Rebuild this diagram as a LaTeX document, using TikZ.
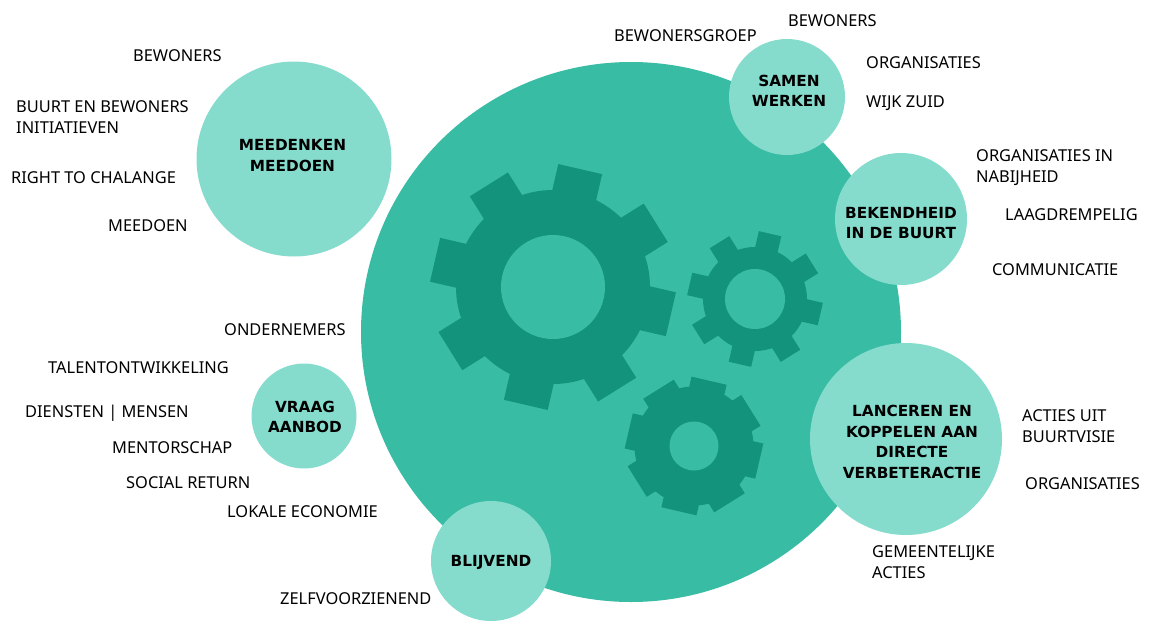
\documentclass[tikz,border=0pt]{standalone}
\usepackage{xcolor}
\usepackage{fontspec}
\setmainfont{Noto Sans}
\newfontfamily\boldfont{DejaVu Sans Bold}
\definecolor{mainteal}{HTML}{38BCA4}
\definecolor{lightteal}{HTML}{85DCCD}
\definecolor{darkteal}{HTML}{13937B}
\tikzset{
  bubble/.style={circle, fill=lightteal, inner sep=0pt},
  bubbletext/.style={align=center, inner sep=0pt, font=\fontsize{15.3}{20.5}\selectfont\boldfont},
  wheel/.style={circle, fill=darkteal, inner sep=0pt},
  hole/.style={circle, fill=mainteal, inner sep=0pt},
  tooth/.style={rectangle, fill=darkteal, inner sep=0pt},
  lbl/.style={anchor=west, align=left, inner sep=0pt, font=\fontsize{16.4}{21}\selectfont}
}
\begin{document}
\begin{tikzpicture}[x=1pt, y=-1pt]
\useasboundingbox (0,0) rectangle (1151,624);
\node[circle, fill=mainteal, inner sep=0pt, minimum size=540pt] (main) at (631,332) {};

% big gear
\node[wheel, minimum size=194pt] (gearA) at (553,287) {};
\foreach \a in {32,77,...,392}
  \node[tooth, minimum width=45pt, minimum height=50pt, rotate=\a-90] (toothA\a) at ([shift={(\a:96pt)}]gearA.center) {};
\node[hole, minimum size=104pt] (holeA) at (gearA.center) {};

% small gear
\node[wheel, minimum size=104pt] (gearB) at (755,299) {};
\foreach \a in {32,77,...,392}
  \node[tooth, minimum width=23pt, minimum height=26pt, rotate=\a-90] (toothB\a) at ([shift={(\a:54pt)}]gearB.center) {};
\node[hole, minimum size=60pt] (holeB) at (gearB.center) {};

% lower gear
\node[wheel, minimum size=119pt] (gearC) at (694,446) {};
\foreach \a in {32,77,...,392}
  \node[tooth, minimum width=36pt, minimum height=28pt, rotate=\a-90] (toothC\a) at ([shift={(\a:53pt)}]gearC.center) {};
\node[hole, minimum size=49pt] (holeC) at (gearC.center) {};

\node[bubble, minimum size=195pt] (meedenken) at (294,159) {};
\node[bubble, minimum size=116pt] (samen) at (787,97) {};
\node[bubble, minimum size=132pt] (bekendheid) at (901,219) {};
\node[bubble, minimum size=192pt] (lanceren) at (906,439) {};
\node[bubble, minimum size=105pt] (vraag) at (304,416) {};
\node[bubble, minimum size=120pt] (blijvend) at (491,561) {};

\node[bubbletext] (meedenkenText) at (292.5,155.5) {MEEDENKEN\\MEEDOEN};
\node[bubbletext] (samenText) at (789,91) {SAMEN\\WERKEN};
\node[bubbletext] (bekendheidText) at (901,223) {BEKENDHEID\\IN DE BUURT};
\node[bubbletext] (lancerenText) at (912,442) {LANCEREN EN\\KOPPELEN AAN\\DIRECTE\\VERBETERACTIE};
\node[bubbletext] (vraagText) at (305,417) {VRAAG\\AANBOD};
\node[bubbletext] (blijvendText) at (491,562) {BLIJVEND};

\node[lbl] (l1) at (133,56) {BEWONERS};
\node[lbl] (l2) at (16,117) {BUURT EN BEWONERS\\INITIATIEVEN};
\node[lbl] (l3) at (11,178) {RIGHT TO CHALANGE};
\node[lbl] (l4) at (108,226) {MEEDOEN};

\node[lbl] (l5) at (224,330) {ONDERNEMERS};
\node[lbl] (l6) at (48,368) {TALENTONTWIKKELING};
\node[lbl] (l7) at (25,413) {DIENSTEN | MENSEN};
\node[lbl] (l8) at (112,448) {MENTORSCHAP};
\node[lbl] (l9) at (126,483) {SOCIAL RETURN};
\node[lbl] (l10) at (227,512) {LOKALE ECONOMIE};
\node[lbl] (l11) at (280,599) {ZELFVOORZIENEND};

\node[lbl] (r1) at (614,36) {BEWONERSGROEP};
\node[lbl] (r2) at (788,21) {BEWONERS};
\node[lbl] (r3) at (866,63) {ORGANISATIES};
\node[lbl] (r4) at (866,103) {WIJK ZUID};
\node[lbl] (r5) at (976,168) {ORGANISATIES IN\\NABIJHEID};
\node[lbl] (r6) at (1005,215) {LAAGDREMPELIG};
\node[lbl] (r7) at (992,270) {COMMUNICATIE};
\node[lbl] (r8) at (1022,426) {ACTIES UIT\\BUURTVISIE};
\node[lbl] (r9) at (1025,484) {ORGANISATIES};
\node[lbl] (r10) at (872,562) {GEMEENTELIJKE\\ACTIES};
\end{tikzpicture}
\end{document}
